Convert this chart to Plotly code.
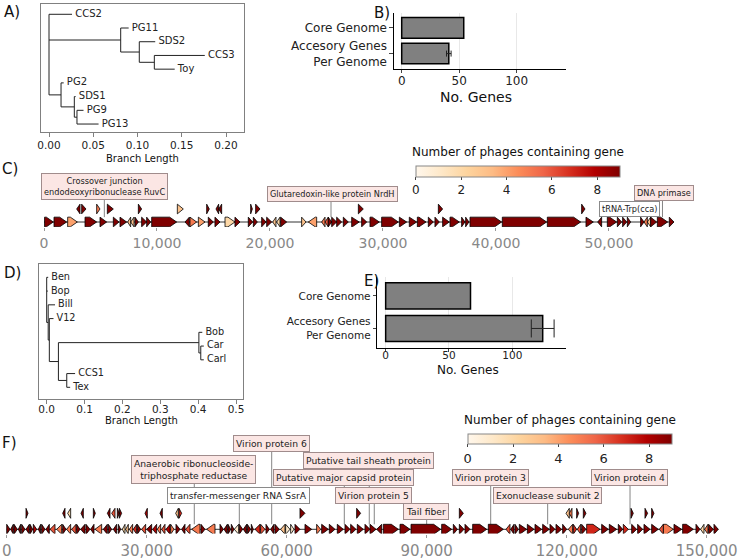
import plotly.graph_objects as go
from plotly.colors import sample_colorscale

# ---------------- DATA ----------------
# Panel A tree (parent / branch length)
A_nodes = ["root", "CCS2", "c1", "PG11", "c2", "SDS2", "c3", "CCS3", "Toy", "c4", "PG2", "c5", "SDS1", "c6", "PG9", "PG13"]
A_parent = [None, "root", "root", "c1", "c1", "c2", "c2", "c3", "c3", "root", "c4", "c4", "c5", "c5", "c6", "c6"]
A_length = [0, 0.026, 0.081, 0.009, 0.021, 0.018, 0.017, 0.057, 0.023, 0.0136, 0.003, 0.015, 0.0015, 0.003, 0.0074, 0.0244]

# Panel D tree
D_nodes = ["root", "Ben", "Bop", "u", "Bill", "w", "V12", "z", "x", "Bob", "cc", "Car", "Carl", "yy", "CCS1", "Tex"]
D_parent = [None, "root", "root", "root", "u", "u", "w", "w", "z", "x", "x", "cc", "cc", "z", "yy", "yy"]
D_length = [0, 0.004, 0.003, 0.004, 0.018, 0.003, 0.011, 0.024, 0.371, 0.009, 0.005, 0.008, 0.008, 0.022, 0.022, 0.009]

# Panels B / E bars
bar_categories = ["Core Genome", "Accesory Genes<br>Per Genome"]
B_values = [54, 41]
B_err = 2
E_values = [67, 124]
E_err = 9

# Panel C genome (main row)
c_start = [50, 885, 2094, 3630, 4956, 6136, 6726, 7404, 7670, 8053,
           8640, 9086, 9530, 12480, 12920, 13660, 14540, 15130, 16020, 16900,
           18080, 18526, 19264, 19706, 20240, 20590, 20945, 22800, 23390, 24570,
           24870, 25160, 25460, 25900, 26490, 27230, 28110, 28850, 29880, 31450,
           32330, 33040, 34012, 34600, 35280, 35930, 36960, 37316, 37700, 40560,
           44544, 47966, 49000, 49854, 50740, 51210, 51624, 52800, 53100, 53394,
           53690, 54280, 55340]
c_end = [826, 2006, 2950, 4660, 5546, 6637, 7316, 7670, 7965, 8350,
         9086, 9440, 11740, 12862, 13510, 14250, 14986, 15576, 16900, 17346,
         18470, 18880, 19650, 20150, 20530, 20886, 21476, 23190, 24130, 24870,
         25160, 25460, 25900, 26340, 26930, 27900, 28560, 29676, 31360, 32095,
         32980, 33806, 34455, 34986, 35870, 36756, 37257, 37611, 40500, 44485,
         47494, 48615, 49350, 50680, 51122, 51565, 51919, 53100, 53394, 53690,
         54220, 55190, 55750]
c_strand = [1, 1, 1, 1, 1, 1, 1, -1, -1, 1,
            1, 1, 1, -1, 1, 1, 1, 1, 1, 1,
            1, 1, 1, 1, -1, -1, 1, 1, -1, -1,
            -1, 1, 1, 1, 1, 1, 1, 1, 1, 1,
            1, 1, 1, 1, 1, 1, 1, 1, 1, 1,
            1, 1, -1, 1, 1, 1, 1, 1, -1, -1,
            1, 1, 1]
c_count = [9, 9, 4, 9, 9, 9, 9, 3, 3, 9,
           9, 9, 9, 9, 5, 4, 9, 9, 2, 9,
           9, 9, 9, 9, 3, 2, 9, 3, 4, 5,
           6, 9, 9, 9, 9, 9, 9, 9, 9, 9,
           9, 9, 9, 9, 9, 9, 9, 9, 9, 9,
           9, 9, 9, 9, 9, 9, 9, 9, 5, 3,
           9, 9, 9]
# Panel C genome (upper row)
cu_start = [2891, 3333, 4660, 5605, 8350, 11800, 14396, 15220, 15458, 18290, 18730, 27820, 34900, 47580]
cu_end = [3186, 3717, 4956, 6136, 8640, 12330, 14632, 15458, 15724, 18440, 19116, 28260, 35280, 47880]
cu_strand = [-1, 1, 1, 1, 1, 1, 1, -1, -1, 1, 1, 1, 1, 1]
cu_count = [9, 9, 5, 9, 9, 3, 9, 9, 9, 9, 9, 9, 9, 9]
c_length = 55750

c_labels = ["Crossover junction<br>endodeoxyribonuclease RuvC", "Glutaredoxin-like protein NrdH",
            "tRNA-Trp(cca)", "DNA primase"]
c_label_pos = [5340, 25400, 51860, 54735]
c_label_rna = [False, False, True, False]

# Panel F genome (main row)
f_start = [0, 850, 1564, 2493, 3207, 4136, 4993, 5707, 6778, 7493, 8421,
           9278, 10707, 11993, 12850, 13921, 14993, 15850, 16993, 17993, 18921,
           20707, 21779, 22850, 23921, 24779, 25493, 26279, 27136, 27993, 28921,
           29993, 31279, 32279, 33207, 34136, 35136, 36279, 37493, 38350, 39636,
           41636, 42850, 45707, 46564, 47421, 48136, 48779, 49850, 50707, 51564,
           52421, 53207, 54421, 55564, 56564, 57493, 58707, 59779, 60850, 61779,
           63921, 66421, 67493, 69136, 70850, 72493, 73707, 75136, 76779, 77855,
           79284, 80712, 84284, 86641, 93212, 95712, 96998, 98212, 99855, 103212,
           107000, 108000, 108927, 109855, 111570, 113212, 114855, 116427, 117712, 119141,
           120355, 121427, 122284, 123212, 124284, 127498, 129141, 131069, 132141, 133927,
           135212, 136569, 138212, 139855, 140712, 142998, 144855, 147712, 148712, 149569,
           150427, 151569]
f_end = [707, 1421, 2278, 2993, 3921, 4850, 5564, 6421, 7278, 8207, 9135,
         10350, 11779, 12707, 13707, 14850, 15707, 16779, 17850, 18707, 20350,
         21564, 22493, 23564, 24421, 25350, 26064, 26993, 27850, 28707, 29779,
         31064, 32136, 32993, 33921, 34993, 35850, 37136, 38207, 39279, 41421,
         42493, 44636, 46421, 47278, 47993, 48707, 49707, 50564, 51421, 52278,
         52850, 54279, 55350, 56279, 57279, 58421, 59636, 60707, 61564, 62850,
         65350, 67279, 68921, 70350, 72136, 73564, 74850, 76421, 77850, 79141,
         80355, 83927, 86427, 93000, 95355, 96570, 97998, 99284, 102855, 106427,
         107855, 108712, 109641, 111427, 113000, 114641, 116284, 117498, 118927, 120000,
         121284, 122141, 122998, 124141, 127141, 128927, 130712, 132000, 133212, 135000,
         136284, 137855, 139641, 140712, 142855, 144641, 147141, 148569, 149427, 150284,
         151427, 152498]
f_strand = [1, -1, 1, -1, 1, -1, 1, 1, -1, 1, -1,
            -1, -1, 1, -1, -1, 1, -1, 1, -1, -1,
            -1, 1, -1, 1, -1, -1, -1, -1, 1, -1,
            -1, -1, -1, -1, -1, 1, 1, -1, -1, -1,
            1, -1, 1, -1, 1, 1, -1, 1, -1, 1,
            1, -1, 1, 1, -1, 1, -1, 1, 1, 1,
            1, 1, 1, 1, 1, 1, 1, 1, 1, 1,
            -1, 1, 1, 1, 1, 1, 1, 1, 1, 1,
            -1, -1, 1, 1, 1, 1, 1, 1, 1, 1,
            -1, 1, -1, 1, 1, 1, 1, 1, 1, 1,
            1, 1, 1, -1, 1, 1, 1, 1, -1, -1,
            1, 1]
f_count = [9, 9, 9, 9, 9, 9, 9, 8, 9, 9, 9,
           6, 5, 9, 5, 6, 9, 9, 9, 9, 5,
           9, 9, 9, 9, 2, 3, 5, 7, 9, 6,
           9, 8, 5, 6, 8, 5, 9, 9, 6, 5,
           9, 5, 9, 9, 9, 9, 1, 9, 9, 9,
           9, 7, 6, 9, 9, 9, 3, 1, 1, 9,
           9, 5, 9, 9, 9, 9, 9, 9, 9, 9,
           9, 9, 9, 9, 9, 9, 9, 9, 9, 9,
           6, 9, 9, 9, 9, 9, 9, 9, 9, 9,
           5, 7, 6, 9, 7, 9, 9, 9, 7, 9,
           9, 9, 9, 6, 5, 9, 9, 9, 2, 5,
           9, 9]
# Panel F genome (upper row)
fu_start = [4136, 11993, 13064, 15921, 18564, 21564, 22493, 23707, 24136, 29636, 32850, 36208,
            36922, 62850, 74993, 97000, 119855, 120570, 122141, 123570, 133784, 136784, 138212]
fu_end = [4564, 12493, 13707, 16421, 18993, 22136, 23207, 24136, 24636, 30136, 33350, 36779,
          37493, 63921, 75850, 97855, 120570, 121141, 122570, 124141, 134284, 137355, 138712]
fu_strand = [1, -1, -1, -1, 1, -1, -1, 1, 1, -1, -1, -1, 1, 1, 1, 1, -1, -1, 1, 1, 1, 1, 1]
fu_count = [9, 9, 2, 9, 9, 9, 6, 9, 9, 8, 9, 3, 7, 9, 9, 9, 3, 5, 9, 9, 9, 9, 9]
f_length = 152500

f_labels = ["Virion protein 6", "Anaerobic ribonucleoside-<br>triphosphate reductase",
            "Putative tail sheath protein", "Putative major capsid protein",
            "transfer-messenger RNA SsrA", "Virion protein 5", "Tail fiber",
            "Virion protein 3", "Exonuclease subunit 2", "Virion protein 4"]
f_label_pos = [56790, 40200, 77700, 72350, 49850, 78770, 90000, 103720, 115930, 133580]
f_label_rna = [False, False, False, False, True, False, False, False, False, False]

cbar_ticks = [0, 2, 4, 6, 8]
FONT = "DejaVu Sans"
W, H = 740, 560


def PX(x):
    return x / W


def PY(y):
    return 1 - y / H


fig = go.Figure()
annotations = []
shapes = []


# ---------------- trees ----------------
def tree_traces(nodes, parents, lengths, xa, ya, fsize):
    children = {n: [] for n in nodes}
    blen = dict(zip(nodes, lengths))
    par = dict(zip(nodes, parents))
    for n, p in zip(nodes, parents):
        if p is not None:
            children[p].append(n)
    X, Y = {}, {}
    cnt = [0]

    def walk(n, x0):
        X[n] = x0
        if not children[n]:
            cnt[0] += 1
            Y[n] = cnt[0]
        else:
            for c in children[n]:
                walk(c, x0 + blen[c])
            Y[n] = (Y[children[n][0]] + Y[children[n][-1]]) / 2

    root = nodes[parents.index(None)]
    walk(root, 0)
    lx, ly = [], []
    for n in nodes:
        p = par[n]
        if p is not None:
            lx += [X[p], X[n], None]
            ly += [Y[n], Y[n], None]
        if children[n]:
            lx += [X[n], X[n], None]
            ly += [Y[children[n][0]], Y[children[n][-1]], None]
    fig.add_trace(go.Scatter(x=lx, y=ly, mode="lines", line=dict(color="#222", width=1),
                             xaxis=xa, yaxis=ya, showlegend=False, hoverinfo="skip"))
    leaves = [n for n in nodes if not children[n]]
    fig.add_trace(go.Scatter(x=[X[n] for n in leaves], y=[Y[n] for n in leaves],
                             text=[" " + n for n in leaves], mode="text", textposition="middle right",
                             textfont=dict(size=fsize, color="#222", family=FONT),
                             xaxis=xa, yaxis=ya, showlegend=False, hoverinfo="skip"))


tree_traces(A_nodes, A_parent, A_length, "x", "y", 10)
tree_traces(D_nodes, D_parent, D_length, "x4", "y4", 9.7)


# ---------------- bars ----------------
def bar_traces(vals, err, xa, ya, capw):
    fig.add_trace(go.Bar(x=[vals[0]], y=[0], orientation="h", width=0.8,
                         marker=dict(color="#808080", line=dict(color="black", width=1.5)),
                         xaxis=xa, yaxis=ya, showlegend=False))
    fig.add_trace(go.Bar(x=[vals[1]], y=[1], orientation="h", width=0.8,
                         marker=dict(color="#808080", line=dict(color="black", width=1.5)),
                         error_x=dict(type="data", array=[err], visible=True, color="#222",
                                      thickness=1, width=capw),
                         xaxis=xa, yaxis=ya, showlegend=False))


bar_traces(B_values, B_err, "x2", "y2", 3)
bar_traces(E_values, E_err, "x5", "y5", 9)


# ---------------- genomes ----------------
def colour(v):
    return sample_colorscale("OrRd", [v / 9])[0]


def genome_traces(rows, xa, ya, half_h, head, length):
    fig.add_trace(go.Scatter(x=[0, length], y=[0, 0], mode="lines",
                             line=dict(color="#333", width=1), xaxis=xa, yaxis=ya,
                             showlegend=False, hoverinfo="skip"))
    groups = {}
    for starts, ends, strands, counts, lvl in rows:
        for s, e, st, c in zip(starts, ends, strands, counts):
            hd = min(head, e - s)
            if st > 0:
                xs = [s, e - hd, e, e - hd, s, s]
            else:
                xs = [e, s + hd, s, s + hd, e, e]
            ys = [lvl - half_h, lvl - half_h, lvl, lvl + half_h, lvl + half_h, lvl - half_h]
            g = groups.setdefault(c, ([], []))
            g[0].extend(xs + [None])
            g[1].extend(ys + [None])
    for c in sorted(groups):
        gx, gy = groups[c]
        fig.add_trace(go.Scatter(x=gx, y=gy, mode="lines", fill="toself", fillcolor=colour(c),
                                 line=dict(color="black", width=0.8), xaxis=xa, yaxis=ya,
                                 showlegend=False, hoverinfo="skip"))


C_HALF = 0.373
F_HALF = 0.3125
genome_traces([(c_start, c_end, c_strand, c_count, 0), (cu_start, cu_end, cu_strand, cu_count, 1)],
              "x3", "y3", C_HALF, 620, c_length)
genome_traces([(f_start, f_end, f_strand, f_count, 0), (fu_start, fu_end, fu_strand, fu_count, 1)],
              "x6", "y6", F_HALF, 1500, f_length)


def colorbar_trace(xa, ya, cx, top, thick, tsize):
    fig.add_trace(go.Scatter(
        x=[None], y=[None], mode="markers", xaxis=xa, yaxis=ya, showlegend=False,
        marker=dict(color=[0], cmin=0, cmax=9, colorscale="OrRd", showscale=True,
                    colorbar=dict(orientation="h", x=PX(cx), xanchor="center", y=PY(top),
                                  yanchor="top", len=204, lenmode="pixels", thickness=thick,
                                  tickvals=cbar_ticks, ticks="outside", ticklen=3,
                                  tickcolor="#444", tickfont=dict(size=tsize, color="#222"),
                                  outlinewidth=1, outlinecolor="#888", xpad=0, ypad=0))))


colorbar_trace("x3", "y3", 517.9, 166, 11, 12)
colorbar_trace("x6", "y6", 569.7, 434, 10, 13)

# genome label boxes: (box x, box level)
c_box = [(5310, 2.73), (25530, 2.15), (51860, 1.0), (54870, 2.23)]
f_box = [(56640, 5.36), (40100, 3.74), (77600, 4.28), (72130, 3.24), (49630, 2.14),
         (78500, 2.14), (89900, 1.1), (103630, 3.24), (115900, 2.14), (133510, 3.24)]


def add_labels(labels, gpos, rna, boxes, xa, ya, half_h, fsize):
    for lab, g, r, (bx, by) in zip(labels, gpos, rna, boxes):
        shapes.append(dict(type="line", xref=xa, yref=ya, x0=g, x1=g, y0=half_h, y1=by,
                           line=dict(color="#666", width=0.8), layer="below"))
        annotations.append(dict(xref=xa, yref=ya, x=bx, y=by, text=lab, showarrow=False,
                                font=dict(size=fsize, color="#222", family=FONT),
                                bgcolor="white" if r else "#fbe6e4",
                                bordercolor="#8a8a8a" if r else "#a08c8c",
                                borderwidth=1, borderpad=2))


add_labels(c_labels, c_label_pos, c_label_rna, c_box, "x3", "y3", C_HALF, 8.2)
add_labels(f_labels, f_label_pos, f_label_rna, f_box, "x6", "y6", F_HALF, 9.2)


# ---------------- axes ----------------
def tree_axes(x0, x1, y0, y1, xr, yr, tv, fmt, stand):
    xa = dict(domain=[PX(x0), PX(x1)], range=xr, showgrid=False, zeroline=False, showline=True,
              mirror=True, linecolor="#808080", linewidth=1, ticks="outside", ticklen=3.5,
              tickcolor="#808080", tickvals=tv, tickformat=fmt, automargin=False,
              ticklabelstandoff=stand, tickfont=dict(size=10.5, color="#222"))
    ya = dict(domain=[PY(y1), PY(y0)], range=yr, showgrid=False, zeroline=False, showline=True,
              mirror=True, linecolor="#808080", linewidth=1, showticklabels=False, ticks="",
              automargin=False)
    return xa, ya


def bar_axes(x0, x1, y0, y1, xr, fs, stand):
    xa = dict(domain=[PX(x0), PX(x1)], range=xr, showgrid=True, gridcolor="#e8e8e8", zeroline=False,
              showline=True, linecolor="black", linewidth=1.2, ticks="outside", ticklen=3,
              tickvals=[0, 50, 100], tickfont=dict(size=fs, color="#222"), automargin=False,
              ticklabelstandoff=stand)
    ya = dict(domain=[PY(y1), PY(y0)], range=[1.6, -0.58], showgrid=False, zeroline=False,
              showline=True, linecolor="black", linewidth=1.2, ticks="outside", ticklen=3.5,
              tickvals=[0, 1], ticktext=bar_categories, tickfont=dict(size=fs, color="#222"),
              automargin=False)
    return xa, ya


def genome_axes(x0, x1, y0, y1, xr, yr, tv, fs):
    xa = dict(domain=[PX(x0), PX(x1)], range=xr, showgrid=False, zeroline=False, showline=False,
              ticks="outside", ticklen=3, tickcolor="#999", tickvals=tv, tickformat=",d",
              tickfont=dict(size=fs, color="#888"), automargin=False)
    ya = dict(domain=[PY(y1), PY(y0)], range=yr, visible=False, showgrid=False, zeroline=False,
              automargin=False)
    return xa, ya


xa1, ya1 = tree_axes(41, 244, 4, 132, [-0.00904, 0.2203], [9.58, 0.25], [0, 0.05, 0.1, 0.15, 0.2], ".2f", 0)
xa4, ya4 = tree_axes(39, 243, 264, 399, [-0.0203, 0.5185], [9.85, 0.03], [0, 0.1, 0.2, 0.3, 0.4, 0.5], ".1f", -3)
xa2, ya2 = bar_axes(394, 566, 13, 69, [-6.7, 143], 12, -3)
xa5, ya5 = bar_axes(377.3, 566, 277, 348, [-6.6, 142.4], 10.5, -6)
C_BOT, F_BOT = 227, 533.5
xa3, ya3 = genome_axes(20, 700, 150, C_BOT, [(20 - 44) * 88.5, (700 - 44) * 88.5],
                       [(222 - C_BOT) / 13, (222 - 150) / 13], [0, 10000, 20000, 30000, 40000, 50000], 14)
xa6, ya6 = genome_axes(0, 740, 425, F_BOT, [(0 - 6.7) * 214.3, (740 - 6.7) * 214.3],
                       [(529.3 - F_BOT) / 16, (529.3 - 425) / 16], [0, 30000, 60000, 90000, 120000, 150000], 15)

# ---------------- text ----------------
def ptext(x, y, t, size, anchor="center"):
    annotations.append(dict(xref="paper", yref="paper", x=PX(x), y=PY(y), text=t, showarrow=False,
                            xanchor=anchor, yanchor="middle", font=dict(size=size, color="#111", family=FONT)))


ptext(2, 12, "A)", 15, "left")
ptext(372, 13, "B)", 15, "left")
ptext(0, 169, "C)", 15, "left")
ptext(2, 273, "D)", 15, "left")
ptext(362, 281, "E)", 15, "left")
ptext(0, 443, "F)", 15, "left")
ptext(142.5, 158, "Branch Length", 10)
ptext(141, 420, "Branch Length", 10)
ptext(476, 97, "No. Genes", 14)
ptext(467.5, 370, "No. Genes", 12)
ptext(517.9, 152, "Number of phages containing gene", 12)
ptext(569.7, 420, "Number of phages containing gene", 12)

fig.update_layout(
    template="none",
    width=W, height=H, margin=dict(l=0, r=0, t=0, b=0, pad=0, autoexpand=False),
    paper_bgcolor="white", plot_bgcolor="white",
    font=dict(family=FONT, color="#222"),
    xaxis=xa1, yaxis=ya1, xaxis2=xa2, yaxis2=ya2, xaxis3=xa3, yaxis3=ya3,
    xaxis4=xa4, yaxis4=ya4, xaxis5=xa5, yaxis5=ya5, xaxis6=xa6, yaxis6=ya6,
    annotations=annotations, shapes=shapes, bargap=0.2, showlegend=False,
)
for i in range(1, 7):
    k = "yaxis" if i == 1 else f"yaxis{i}"
    fig.layout[k].anchor = "x" if i == 1 else f"x{i}"
    kx = "xaxis" if i == 1 else f"xaxis{i}"
    fig.layout[kx].anchor = "y" if i == 1 else f"y{i}"

fig.write_html("out.html", config={"displayModeBar": False},
               post_script="document.body.style.margin='0';document.body.style.overflow='hidden';")
